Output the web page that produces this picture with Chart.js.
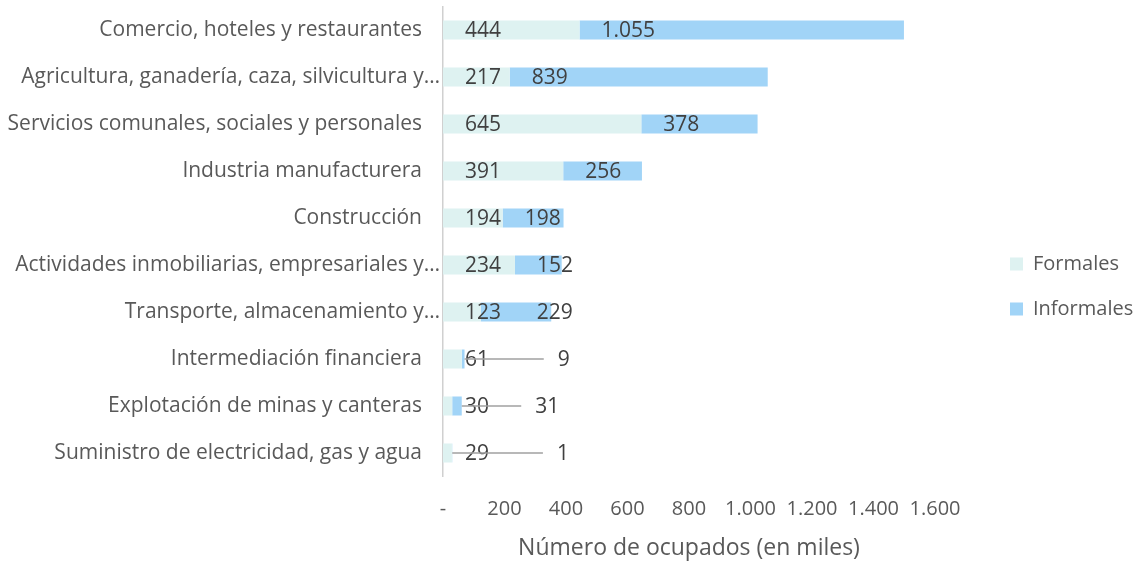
<!DOCTYPE html>
<html>
<head>
    <meta charset="utf-8">
    <title>Ocupados por rama</title>
    <script src="https://cdn.jsdelivr.net/npm/chart.js"></script>
    <style>
        html, body { margin: 0; padding: 0; background: #fff; }
        .chart-box { width: 1142px; height: 562px; position: relative; }
    </style>
</head>
<body>
    <div class="chart-box">
        <canvas id="graph"></canvas>
    </div>

    <script>
        // data (thousands of people)
        const categories = [
            "Comercio, hoteles y restaurantes",
            "Agricultura, ganadería, caza, silvicultura y…",
            "Servicios comunales, sociales y personales",
            "Industria manufacturera",
            "Construcción",
            "Actividades inmobiliarias, empresariales y…",
            "Transporte, almacenamiento y…",
            "Intermediación financiera",
            "Explotación de minas y canteras",
            "Suministro de electricidad, gas y agua"
        ];
        const formales = [444, 217, 645, 391, 194, 234, 123, 61, 30, 29];
        const informales = [1055, 839, 378, 256, 198, 152, 229, 9, 31, 1];
        const seriesNames = ["Formales", "Informales"];
        const xMax = 1600;
        const xStep = 200;
        const axisTitle = "Número de ocupados (en miles)";

        const FONT = "'Open Sans', 'Noto Sans', sans-serif";

        function fmt(v) {
            if (v === 0) return "-";
            return String(v).replace(/\B(?=(\d{3})+(?!\d))/g, ".");
        }

        // value labels near the base of every bar; some informal ones moved out (with a leader line)
        const barLabels = {
            id: "barLabels",
            afterDatasetsDraw(chart, args, opts) {
                const ctx = chart.ctx;
                ctx.save();
                ctx.font = "21px " + FONT;
                ctx.textAlign = "left";
                ctx.textBaseline = "middle";
                chart.data.datasets.forEach((ds, di) => {
                    const meta = chart.getDatasetMeta(di);
                    meta.data.forEach((bar, i) => {
                        const start = Math.min(bar.base, bar.x);
                        const end = Math.max(bar.base, bar.x);
                        const text = fmt(ds.data[i]);
                        let lx = start + opts.inset;
                        if (di === 1 && opts.shifted[i] !== undefined) {
                            lx = start + opts.shifted[i];
                        }
                        if (di === 1 && opts.leaders[i] !== undefined) {
                            lx = start + opts.leaders[i];
                            ctx.strokeStyle = "#a0a0a0";
                            ctx.lineWidth = 1.5;
                            ctx.beginPath();
                            ctx.moveTo(end, bar.y);
                            ctx.lineTo(lx - 14, bar.y);
                            ctx.stroke();
                        }
                        ctx.fillStyle = "#404040";
                        ctx.fillText(text, lx, bar.y + 1);
                    });
                });
                ctx.restore();
            }
        };

        // truncated category names hang a bit past the others, like in the original
        const hangEllipsis = {
            id: "hangEllipsis",
            beforeDraw(chart, args, opts) {
                const items = chart.scales.y.getLabelItems();
                items.forEach(item => {
                    if (item._hung) return;
                    if (String(item.label).endsWith("…")) {
                        item.options.translation[0] += opts.shift;
                    }
                    item._hung = true;
                });
            }
        };

        // legend on the right, drawn from the datasets
        const sideLegend = {
            id: "sideLegend",
            afterDraw(chart, args, opts) {
                const ctx = chart.ctx;
                const n = chart.data.datasets.length;
                ctx.save();
                ctx.font = "20px " + FONT;
                ctx.textAlign = "left";
                ctx.textBaseline = "middle";
                chart.data.datasets.forEach((ds, i) => {
                    const y = opts.mid + (i - (n - 1) / 2) * opts.spacing;
                    ctx.fillStyle = ds.backgroundColor;
                    ctx.fillRect(opts.x, y - 6.5, 13, 13);
                    ctx.fillStyle = "#595959";
                    ctx.fillText(ds.label, opts.x + 23, y);
                });
                ctx.restore();
            }
        };

        const ctx = document.getElementById("graph").getContext("2d");
        new Chart(ctx, {
            type: "bar",
            data: {
                labels: categories,
                datasets: [{
                    label: seriesNames[0],
                    data: formales,
                    backgroundColor: "#def2f1",
                    borderWidth: 0
                }, {
                    label: seriesNames[1],
                    data: informales,
                    backgroundColor: "#a1d4f7",
                    borderWidth: 0
                }]
            },
            options: {
                indexAxis: "y",
                responsive: true,
                maintainAspectRatio: false,
                animation: false,
                categoryPercentage: 1,
                barPercentage: 0.404,
                layout: { padding: { top: 6.5, right: 207, bottom: 0, left: 0 } },
                plugins: {
                    legend: { display: false },
                    tooltip: { enabled: false },
                    barLabels: {
                        inset: 22,
                        shifted: { 6: 56 },
                        leaders: { 7: 96, 8: 83, 9: 105 }
                    },
                    hangEllipsis: { shift: 18 },
                    sideLegend: { x: 1010, mid: 286.5, spacing: 45 }
                },
                scales: {
                    x: {
                        stacked: true,
                        min: 0,
                        max: xMax,
                        grid: { display: false, drawTicks: false },
                        border: { display: false },
                        ticks: {
                            stepSize: xStep,
                            padding: 21,
                            maxRotation: 0,
                            color: "#595959",
                            font: { family: FONT, size: 20 },
                            callback: v => fmt(v)
                        },
                        title: {
                            display: true,
                            text: axisTitle,
                            color: "#595959",
                            font: { family: FONT, size: 23 },
                            padding: { top: 0, bottom: 0 }
                        },
                        afterFit: s => { s.height = 85.5; }
                    },
                    y: {
                        stacked: true,
                        grid: { display: false, drawTicks: false },
                        border: { display: true, color: "#d0d0d0", width: 1.5 },
                        ticks: {
                            padding: 21,
                            autoSkip: false,
                            color: "#595959",
                            font: { family: FONT, size: 21 }
                        },
                        afterFit: s => {
                            s.width = 443;
                            s.paddingTop = 0;
                            s.paddingBottom = 0;
                        }
                    }
                }
            },
            plugins: [barLabels, hangEllipsis, sideLegend]
        });
    </script>
</body>
</html>
